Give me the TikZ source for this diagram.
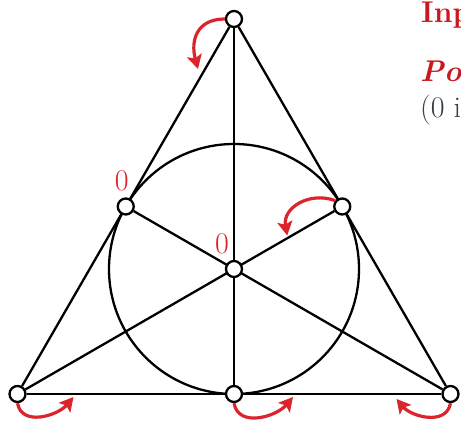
\documentclass[tikz,border=0pt]{standalone}
\usetikzlibrary{arrows.meta,positioning,backgrounds,calc}
\definecolor{fanoRed}{RGB}{218,37,45}
\definecolor{headRed}{RGB}{200,25,35}
\definecolor{noteGray}{RGB}{55,62,72}

\begin{document}
\begin{tikzpicture}[x=1pt,y=1pt,
      pt/.style={circle,draw=black,line width=2.3pt,fill=white,minimum size=16pt,inner sep=0pt},
      edge/.style={line width=2.3pt,draw=black},
      turn/.style={-{Stealth[length=14pt,width=15pt,inset=3pt]},line width=3.2pt,draw=fanoRed},
      lbl/.style={text=fanoRed,inner sep=0pt,font=\fontsize{30}{34}\selectfont}
    ]
    \useasboundingbox (0,0) rectangle (461,423);
    \clip (0,0) rectangle (461,423);
    % points of the plane
    \node[pt] (t)  at (234,404)      {};
    \node[pt] (bl) at (17.5,29)      {};
    \node[pt] (br) at (450.5,29)     {};
    \node[pt] (bm) at (234,29)       {};
    \node[pt] (lm) at (125.75,216.5) {};
    \node[pt] (rm) at (342.25,216.5) {};
    \node[pt] (c)  at (234,154)      {};
    \begin{scope}[on background layer]
      \draw[edge] (t) -- (bl);
      \draw[edge] (bl) -- (br);
      \draw[edge] (br) -- (t);
      \draw[edge] (t) -- (bm);
      \draw[edge] (bl) -- (rm);
      \draw[edge] (br) -- (lm);
      \draw[edge] (c) circle[radius=125];
    \end{scope}
    % labels
    \node[lbl,above=6pt of lm,xshift=-4pt] (zl) {0};
    \node[lbl] (zc) at ([xshift=-12pt,yshift=25pt]c) {0};
    % turning arrows
    \coordinate (tTip)  at ([shift={(-36,-50)}]t);
    \coordinate (rTip)  at ([shift={(-55,-29)}]rm);
    \coordinate (blTip) at ([shift={(56,-3)}]bl);
    \coordinate (bmTip) at ([shift={(59,-3)}]bm);
    \coordinate (brTip) at ([shift={(-54,-5)}]br);
    \draw[turn] (t.west) to[out=180,in=105,looseness=1.3] (tTip);
    \draw[turn] (rm.140) to[out=160,in=100,looseness=1.2] (rTip);
    \draw[turn] (bl.south) to[out=-80,in=-130,looseness=1.1] (blTip);
    \draw[turn] (bm.south) to[out=-80,in=-130,looseness=1.1] (bmTip);
    \draw[turn] (br.south) to[out=-100,in=-50,looseness=1.1] (brTip);
    % text at the right
    \node[anchor=base west,inner sep=0pt,text=headRed,font=\fontsize{30}{34}\selectfont\bfseries] (head) at (421,400) {Inp};
    \node[anchor=base west,inner sep=0pt,text=headRed,font=\fontsize{30}{34}\selectfont\itshape\bfseries] (sub) at (420,341) {Por};
    \node[anchor=base west,inner sep=0pt,text=noteGray,font=\fontsize{30}{34}\selectfont] (note) at (420,305) {(0 i};
  \end{tikzpicture}
\end{document}
